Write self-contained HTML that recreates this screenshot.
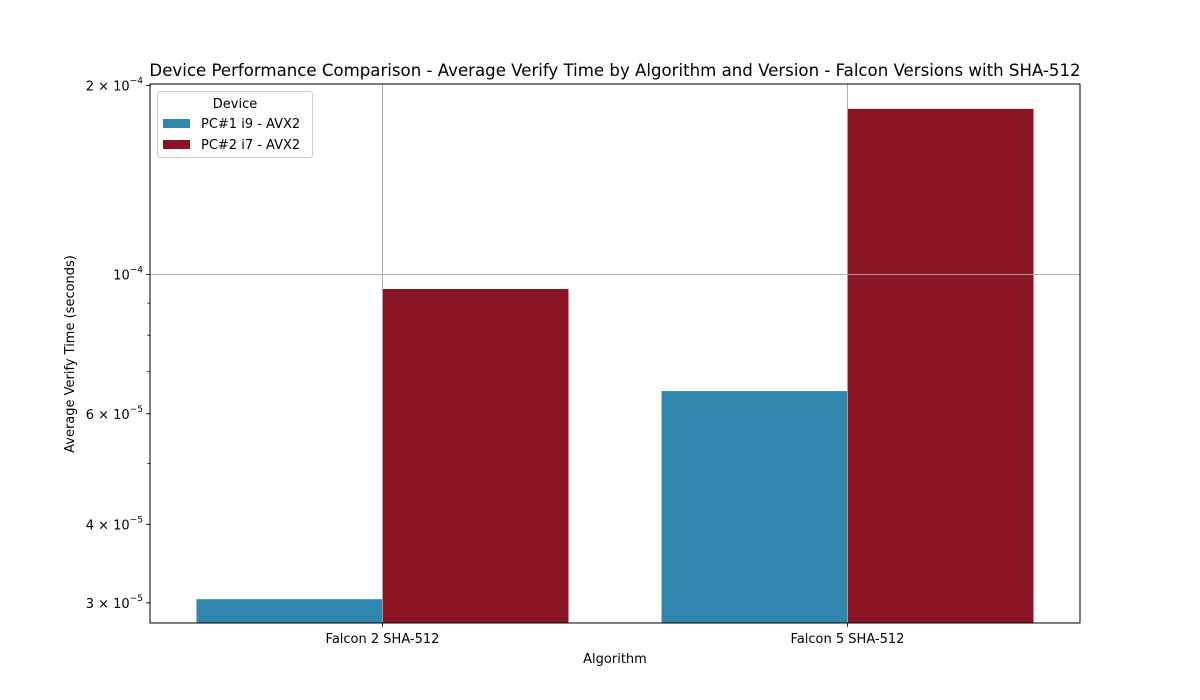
<!DOCTYPE html>
<html><head><meta charset="utf-8"><style>
body{margin:0;background:#fff;font-family:"DejaVu Sans","Liberation Sans",sans-serif;}
svg{display:block}
</style></head><body>
<svg id="chart" width="1200" height="700" font-family="DejaVu Sans, Liberation Sans, sans-serif">
<rect width="1200" height="700" fill="#fff"/>
<text x="615" y="76" text-anchor="middle" font-size="16.6">Device Performance Comparison - Average Verify Time by Algorithm and Version - Falcon Versions with SHA-512</text>
<g id="grid"></g>
<g id="bars"></g>
<g id="axes"></g>
<text x="615" y="663" text-anchor="middle" font-size="13">Algorithm</text>
<text transform="translate(74,354) rotate(-90)" text-anchor="middle" font-size="13">Average Verify Time (seconds)</text>
<g>
<rect x="157.5" y="91.5" width="155" height="66" rx="3" fill="#fff" fill-opacity="0.8" stroke="#ccc"/>
<text x="235" y="108" text-anchor="middle" font-size="13">Device</text>
<rect x="163" y="119" width="27" height="9" fill="#3186ad"/>
<text x="201" y="128" font-size="13">PC#1 i9 - AVX2</text>
<rect x="163" y="140" width="27" height="9" fill="#891524"/>
<text x="201" y="149" font-size="13">PC#2 i7 - AVX2</text>
</g>
</svg>
<script>
const categories=["Falcon 2 SHA-512","Falcon 5 SHA-512"];
const seriesNames=["PC#1 i9 - AVX2","PC#2 i7 - AVX2"];
const pc1Values=[3.04e-5,6.52e-5];
const pc2Values=[9.48e-5,1.835e-4];
const majorTicks=[1e-4];
const labelTicks=[3e-5,4e-5,6e-5,1e-4,2e-4];
const tickLabelMant=["3","4","6","","2"];
const minorTicks=[3e-5,4e-5,5e-5,6e-5,7e-5,8e-5,9e-5,2e-4];

const NS="http://www.w3.org/2000/svg";
const L=150,R=1080,T=84,B=623;
const yMin=2.786e-5,yMax=2.01e-4;
function y(v){return B-(Math.log10(v)-Math.log10(yMin))/(Math.log10(yMax)-Math.log10(yMin))*(B-T);}
function x(i){return L+(i+0.5)/2*(R-L);}
const bw=0.4*(R-L)/2;
function mk(tag,attrs,parent){const e=document.createElementNS(NS,tag);for(const k in attrs)e.setAttribute(k,attrs[k]);parent.appendChild(e);return e;}
const grid=document.getElementById('grid'),bars=document.getElementById('bars'),axes=document.getElementById('axes');
categories.forEach((c,i)=>{const g=mk('line',{x1:x(i),x2:x(i),y1:T,y2:B,stroke:'#b0b0b0','stroke-width':0.8},grid);
});
majorTicks.forEach(v=>{const g=mk('line',{x1:L,x2:R,y1:y(v),y2:y(v),stroke:'#b0b0b0','stroke-width':0.8},grid);
});
const cols=['#3186ad','#891524'];
[pc1Values,pc2Values].forEach((vals,s)=>{vals.forEach((v,i)=>{
 const x0=s===0?x(i)-bw:x(i);
 const r=mk('rect',{x:x0,y:y(v),width:bw,height:B-y(v),fill:cols[s]},bars);
 
 
});});
categories.forEach((c,i)=>{mk('line',{x1:x(i),x2:x(i),y1:T,y2:B,stroke:'#b0b0b0','stroke-width':0.8},bars);});
majorTicks.forEach(v=>{mk('line',{x1:L,x2:R,y1:y(v),y2:y(v),stroke:'#b0b0b0','stroke-width':0.8},bars);});
const frame=mk('rect',{x:L,y:T,width:R-L,height:B-T,fill:'none',stroke:'#000','stroke-width':1},axes);

minorTicks.forEach(v=>{mk('line',{x1:L-2.5,x2:L,y1:y(v),y2:y(v),stroke:'#000','stroke-width':0.8},axes);});
labelTicks.forEach((v,k)=>{
 mk('line',{x1:L-4,x2:L,y1:y(v),y2:y(v),stroke:'#000','stroke-width':0.8},axes);
 const t=mk('text',{x:L-7,y:y(v)+5,'text-anchor':'end','font-size':13},axes);
 
 const m=tickLabelMant[k];
 const ex=v<1e-4?'\u22125':'\u22124';
 t.innerHTML=(m?m+' \u00d7 ':'')+'10<tspan dy="-7" font-size="9">'+ex+'</tspan>';
});
categories.forEach((c,i)=>{
 mk('line',{x1:x(i),x2:x(i),y1:B,y2:B+4,stroke:'#000','stroke-width':0.8},axes);
 const t=mk('text',{x:x(i),y:B+20,'text-anchor':'middle','font-size':13},axes);
 t.textContent=c;
 
});
</script>
</body></html>
